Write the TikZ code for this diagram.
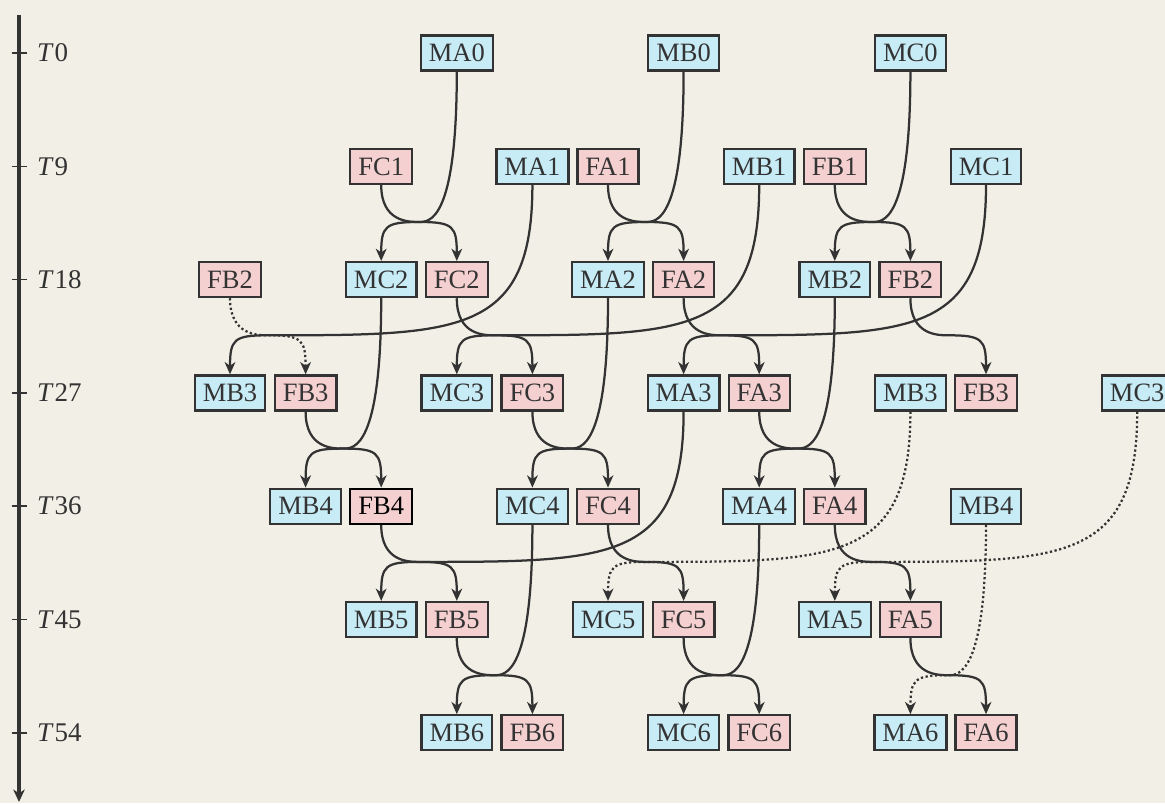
\documentclass[tikz,border=0pt]{standalone}
\usepackage{fontspec}
\setmainfont{Liberation Serif}
\usetikzlibrary{arrows.meta,calc}
\definecolor{bg}{HTML}{F2F0E6}
\definecolor{ink}{HTML}{333333}
\definecolor{mfill}{HTML}{C8ECF6}
\definecolor{ffill}{HTML}{F5D0D0}
\begin{document}
\begin{tikzpicture}[x=0.4pt,y=-0.4pt,
  box/.style={draw=ink, line width=0.9pt, text=ink,
    font=\fontsize{10.6pt}{12pt}\selectfont,
    inner xsep=3.2pt, inner ysep=0pt, minimum height=14pt,
    text height=7pt, text depth=0pt},
  mbox/.style={box, fill=mfill},
  fbox/.style={box, fill=ffill},
  hot/.style={draw=black, text=black},
  lab/.style={anchor=west, inner sep=0pt, text=ink,
    font=\fontsize{10.8pt}{12pt}\selectfont, text height=7pt, text depth=0pt},
  e/.style={draw=ink, line width=0.9pt, -{Stealth[length=4.9pt,width=4.3pt,inset=1.5pt]}},
  ed/.style={e, densely dotted},
  link/.style={to path={
    let \p1=(\tikztostart), \p2=(\tikztotarget),
        \n1={ifthenelse(\x1>\x2,1,-1)},
        \n2={ifthenelse(\x1>\x2,-1,1)} in
    .. controls (\x1,\y2+15.6pt)
       and ({\x1+\n2*(0.2*abs(\x1-\x2-\n1*15.12pt)+8pt)},\y2+15.6pt)
    .. (\x2+\n1*15.12pt,\y2+15.6pt)
    .. controls (\x2+\n1*1.6pt,\y2+15.6pt) and (\x2,\y2+14pt)
    .. (\tikztotarget)}}
]
\fill[bg] (0,0) rectangle (1165,803);
\useasboundingbox (0,0) rectangle (1165,803);

% time axis
\coordinate (atop) at (19,15);
\coordinate (abot) at (19,802);
\draw[draw=ink, line width=1.5pt, -{Stealth[length=5pt,width=4.6pt,inset=1.5pt]}] (atop) -- (abot);
\foreach \t/\y in {0/53,9/166.3,18/279.6,27/392.9,36/506.2,45/619.5,54/732.8}{
  \draw[ink, line width=0.6pt] (11.5,\y) -- (26.5,\y);
  \node[lab] (L\t) at (36.5,\y) {\textit{T}\/\kern0.4pt\t};
}

% row 0
\node[mbox] (MA0) at (456.8,53) {MA0};
\node[mbox] (MB0) at (683.6,53) {MB0};
\node[mbox] (MC0) at (910.4,53) {MC0};
% row 1
\node[fbox] (FC1) at (381.2,166.3) {FC1};
\node[mbox] (MA1) at (532.4,166.3) {MA1};
\node[fbox] (FA1) at (608,166.3) {FA1};
\node[mbox] (MB1) at (759.2,166.3) {MB1};
\node[fbox] (FB1) at (834.8,166.3) {FB1};
\node[mbox] (MC1) at (986,166.3) {MC1};
% row 2
\node[fbox] (FB2a) at (230,279.6) {FB2};
\node[mbox] (MC2) at (381.2,279.6) {MC2};
\node[fbox] (FC2) at (456.8,279.6) {FC2};
\node[mbox] (MA2) at (608,279.6) {MA2};
\node[fbox] (FA2) at (683.6,279.6) {FA2};
\node[mbox] (MB2) at (834.8,279.6) {MB2};
\node[fbox] (FB2b) at (910.4,279.6) {FB2};
% row 3
\node[mbox] (MB3a) at (230,392.9) {MB3};
\node[fbox] (FB3a) at (305.6,392.9) {FB3};
\node[mbox] (MC3a) at (456.8,392.9) {MC3};
\node[fbox] (FC3) at (532.4,392.9) {FC3};
\node[mbox] (MA3) at (683.6,392.9) {MA3};
\node[fbox] (FA3) at (759.2,392.9) {FA3};
\node[mbox] (MB3b) at (910.4,392.9) {MB3};
\node[fbox] (FB3b) at (986,392.9) {FB3};
\node[mbox] (MC3b) at (1137.2,392.9) {MC3};
% row 4
\node[mbox] (MB4a) at (305.6,506.2) {MB4};
\node[fbox,hot] (FB4) at (381.2,506.2) {FB4};
\node[mbox] (MC4) at (532.4,506.2) {MC4};
\node[fbox] (FC4) at (608,506.2) {FC4};
\node[mbox] (MA4) at (759.2,506.2) {MA4};
\node[fbox] (FA4) at (834.8,506.2) {FA4};
\node[mbox] (MB4b) at (986,506.2) {MB4};
% row 5
\node[mbox] (MB5) at (381.2,619.5) {MB5};
\node[fbox] (FB5) at (456.8,619.5) {FB5};
\node[mbox] (MC5) at (608,619.5) {MC5};
\node[fbox] (FC5) at (683.6,619.5) {FC5};
\node[mbox] (MA5) at (834.8,619.5) {MA5};
\node[fbox] (FA5) at (910.4,619.5) {FA5};
% row 6
\node[mbox] (MB6) at (456.8,732.8) {MB6};
\node[fbox] (FB6) at (532.4,732.8) {FB6};
\node[mbox] (MC6) at (683.6,732.8) {MC6};
\node[fbox] (FC6) at (759.2,732.8) {FC6};
\node[mbox] (MA6) at (910.4,732.8) {MA6};
\node[fbox] (FA6) at (986,732.8) {FA6};

% connectors
\foreach \s/\t in {MA0/MC2, MB0/MA2, MC0/MB2,
                   FC1/FC2, FA1/FA2, FB1/FB2b,
                   MA1/MB3a, MB1/MC3a, MC1/MA3,
                   FC2/FC3, FA2/FA3, FB2b/FB3b,
                   MC2/MB4a, MA2/MC4, MB2/MA4,
                   FB3a/FB4, FC3/FC4, FA3/FA4,
                   MA3/MB5,
                   FB4/FB5, FC4/FC5, FA4/FA5,
                   MC4/MB6, MA4/MC6,
                   FB5/FB6, FC5/FC6, FA5/FA6}
  \draw[e] (\s.south) to[link] (\t.north);
\foreach \s/\t in {FB2a/FB3a, MB3b/MC5, MC3b/MA5, MB4b/MA6}
  \draw[ed] (\s.south) to[link] (\t.north);
\end{tikzpicture}
\end{document}
